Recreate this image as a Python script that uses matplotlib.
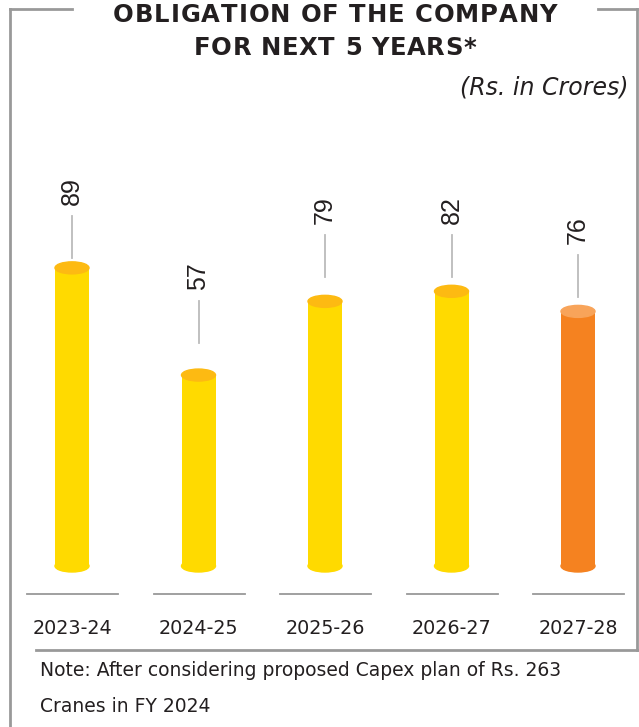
import matplotlib
matplotlib.use("Agg")
import matplotlib.pyplot as plt
from matplotlib.patches import Ellipse
from matplotlib.lines import Line2D
from matplotlib.font_manager import FontProperties, findfont
from matplotlib.ft2font import FT2Font

# data
years = ["2023-24", "2024-25", "2025-26", "2026-27", "2027-28"]
obligation = [89, 57, 79, 82, 76]

# styling
body_colors = ["#FFDA00", "#FFDA00", "#FFDA00", "#FFDA00", "#F58220"]
top_colors = ["#FDBA12", "#FDBA12", "#FDBA12", "#FDBA12", "#F8A45A"]
label_gap_px = [4, 26, 18, 8, 8]   # gap between bar top and leader line
grey = "#999999"
txt = "#231F20"

W, H = 639, 727
fig = plt.figure(figsize=(W / 100, H / 100), dpi=100)

# pixel mapping for bar axes
px_per_unit = 3.35
base_px = 566
x0_px, dx_px = 72, 126.5

ax = fig.add_axes([0, 0, 1, 1])
ax.set_xlim(-x0_px / dx_px, (W - x0_px) / dx_px)
ax.set_ylim((base_px - H) / px_per_unit, base_px / px_per_unit)
ax.axis("off")

bar_w = 34 / dx_px
ell_h = 12 / px_per_unit
xs = list(range(len(years)))

ax.bar(xs, obligation, width=bar_w, color=body_colors, zorder=2)
for i, v in enumerate(obligation):
    ax.add_patch(Ellipse((i, 0), bar_w, ell_h, color=body_colors[i], zorder=1))
    ax.add_patch(Ellipse((i, v), bar_w, ell_h, color=top_colors[i], zorder=3))
    y1 = v + (6 + label_gap_px[i]) / px_per_unit
    y2 = y1 + 42 / px_per_unit
    ax.plot([i, i], [y1, y2], color="#BBBBBB", lw=1.3)
    ax.text(i, y2 + 11 / px_per_unit, str(v), rotation=90, ha="center",
            va="bottom", fontsize=18, family="Liberation Sans", color=txt)
    # baseline segment + year label
    ax.plot([i - 45 / dx_px, i + 46 / dx_px], [-28 / px_per_unit] * 2,
            color=grey, lw=1.3)
    ax.text(i, -62 / px_per_unit, years[i], ha="center", va="center",
            fontsize=13.8, color=txt)

# frame + titles in pixel coords
deco = fig.add_axes([0, 0, 1, 1], facecolor="none")
deco.set_xlim(0, W)
deco.set_ylim(H, 0)
deco.axis("off")
for xx, yy in [([10, 72], [9, 9]), ([10, 10], [9, H]),
               ([598, 637], [9, 9]), ([637, 637], [9, 650]),
               ([36, W], [650, 650])]:
    deco.add_line(Line2D(xx, yy, color=grey, lw=2))


def tracked(x_mid, y, s, size, track, width):
    # centred bold text with extra letter spacing, scaled to a target width
    prop = FontProperties(family="DejaVu Sans", weight="bold", size=size)
    font = FT2Font(findfont(prop))
    font.set_size(size, 100)
    adv = [font.load_char(ord(c)).linearHoriAdvance for c in s]
    k = (width - track * (len(s) - 1)) / sum(adv)
    adv = [a * k for a in adv]
    x = x_mid - width / 2
    for c, a in zip(s, adv):
        deco.text(x, y, c, ha="left", va="center", fontproperties=prop,
                  color=txt)
        x += a + track


tracked(335, 15, "OBLIGATION OF THE COMPANY", 17.5, 1.0, 444)
tracked(335, 48, "FOR NEXT 5 YEARS*", 17.5, 1.0, 282)
deco.text(628, 87, "(Rs. in Crores)", ha="right", va="center",
          fontsize=17, style="italic", color=txt)
deco.text(40, 671, "Note: After considering proposed Capex plan of Rs. 263",
          ha="left", va="center", fontsize=13.5, color=txt)
deco.text(40, 707, "Cranes in FY 2024", ha="left", va="center",
          fontsize=13.5, color=txt)

fig.savefig("out.png", dpi=100)
